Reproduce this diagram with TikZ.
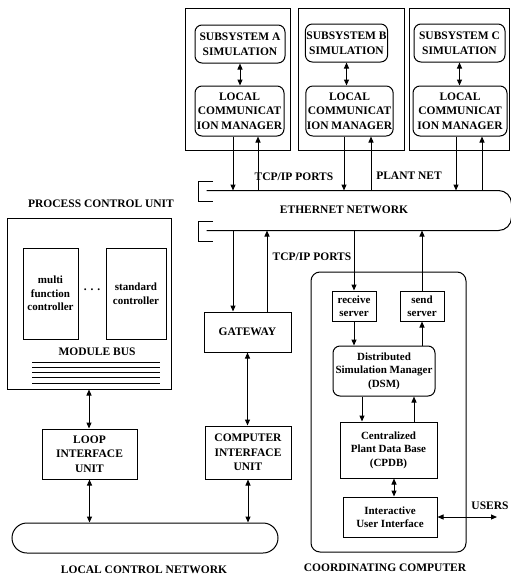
\documentclass[tikz,border=0pt]{standalone}
\usepackage{fontspec}
\setmainfont{Liberation Serif}
\usetikzlibrary{positioning, arrows.meta}

\begin{document}
\begin{tikzpicture}[
    x=1pt, y=-1pt, line width=1pt,
    box/.style={rectangle, draw, align=center, inner sep=1pt,
                font=\fontsize{11.5}{14.5}\selectfont\bfseries},
    rbox/.style={box, rounded corners=7pt},
    sbox/.style={box, font=\fontsize{11}{13.5}\selectfont\bfseries},
    frame/.style={rectangle, draw, inner sep=0pt},
    lbl/.style={inner sep=0pt, font=\fontsize{11.5}{14}\selectfont\bfseries},
    arr/.style={-{Triangle[length=6pt, width=5pt]}},
    dbl/.style={{Triangle[length=6pt, width=5pt]}-{Triangle[length=6pt, width=5pt]}},
]
\useasboundingbox (0,0) rectangle (511,576);

% Subsystems
\node[frame, minimum width=105pt, minimum height=142pt] (frA) at (237.5,79) {};
\node[frame, minimum width=106pt, minimum height=142pt] (frB) at (351,79) {};
\node[frame, minimum width=100pt, minimum height=142pt] (frC) at (459.5,79) {};
\node[rbox, minimum width=90pt, minimum height=38pt] (simA) at (240,44) {SUBSYSTEM A\\SIMULATION};
\node[rbox, minimum width=81pt, minimum height=38pt] (simB) at (346.5,43) {SUBSYSTEM B\\SIMULATION};
\node[rbox, minimum width=91pt, minimum height=38pt] (simC) at (459.5,43) {SUBSYSTEM C\\SIMULATION};
\node[rbox, minimum width=89pt, minimum height=50pt] (lcmA) at (239.5,111) {LOCAL\\COMMUNICAT\\ION MANAGER};
\node[rbox, minimum width=87pt, minimum height=50pt] (lcmB) at (349.5,111) {LOCAL\\COMMUNICAT\\ION MANAGER};
\node[rbox, minimum width=94pt, minimum height=50pt] (lcmC) at (460,111) {LOCAL\\COMMUNICAT\\ION MANAGER};
\draw[dbl] (simA.south) -- (simA.south |- lcmA.north);
\draw[dbl] (simB.south) -- (simB.south |- lcmB.north);
\draw[dbl] (simC.south) -- (simC.south |- lcmC.north);

% Ethernet
\node[minimum width=304pt, minimum height=39pt, inner sep=0pt] (eth) at (359,210.5) {};
\draw[rounded corners=13pt] (eth.north west) -- (eth.north east) -- (eth.south east) -- (eth.south west);
\draw (213,181) -- (198,181) -- (198,201) -- (213,201);
\draw (213,221) -- (198,221) -- (198,241) -- (213,241);
\node[lbl] (ethlbl) at (344,210) {ETHERNET NETWORK};
\node[lbl] (tcpA) at (294,177) {TCP/IP PORTS};
\node[lbl] (plant) at (409,176) {PLANT NET};

\draw[arr] (233,0 |- lcmA.south) -- (233,0 |- eth.north);
\draw[arr] (258,0 |- eth.north) -- (258,0 |- lcmA.south);
\draw[arr] (344,0 |- lcmB.south) -- (344,0 |- eth.north);
\draw[arr] (371,0 |- eth.north) -- (371,0 |- lcmB.south);
\draw[arr] (456,0 |- lcmC.south) -- (456,0 |- eth.north);
\draw[arr] (482,0 |- eth.north) -- (482,0 |- lcmC.south);

% Process control unit
\node[lbl] (pcutitle) at (101,204) {PROCESS CONTROL UNIT};
\node[frame, minimum width=164pt, minimum height=171pt] (pcu) at (89,303.5) {};
\node[sbox, minimum width=55pt, minimum height=91pt] (mfc) at (50.5,293.5) {multi\\function\\controller};
\node[sbox, minimum width=60pt, minimum height=91pt] (stc) at (136,293.5) {standard\\controller};
\node[lbl] (dots) at (92,290) {.\,\,.\,\,.};
\node[lbl] (mbus) at (97,352) {MODULE BUS};
\foreach \y in {362,367,372,377,383}
  \draw (32,\y) -- (160,\y);

% Gateway and interface units
\node[box, minimum width=87pt, minimum height=40pt] (gw) at (247.5,332) {GATEWAY};
\node[box, minimum width=86pt, minimum height=53pt] (ciu) at (248,452.5) {COMPUTER\\INTERFACE\\UNIT};
\node[box, minimum width=95pt, minimum height=50pt] (liu) at (89.5,454) {LOOP\\INTERFACE\\UNIT};
\draw[arr] (233,0 |- eth.south) -- (233,0 |- gw.north);
\draw[arr] (267,0 |- gw.north) -- (267,0 |- eth.south);
\draw[dbl] (gw.south) -- (gw.south |- ciu.north);
\draw[dbl] (89,0 |- pcu.south) -- (89,0 |- liu.north);

% Local control network
\node[draw, rounded corners=15pt, minimum width=266pt, minimum height=30pt] (lcn) at (145,538) {};
\node[lbl] (lcnlbl) at (144,570) {LOCAL CONTROL NETWORK};
\draw[dbl] (liu.south) -- (liu.south |- lcn.north);
\draw[dbl] (ciu.south) -- (ciu.south |- lcn.north);

% Coordinating computer
\node[frame, rounded corners=9pt, minimum width=155pt, minimum height=280pt] (cc) at (388.5,412) {};
\node[lbl] (cclbl) at (385,568) {COORDINATING COMPUTER};
\node[lbl] (tcpB) at (312,257) {TCP/IP PORTS};
\node[sbox, minimum width=44pt, minimum height=30pt] (recv) at (354,306) {receive\\server};
\node[sbox, minimum width=44pt, minimum height=30pt] (send) at (422,306) {send\\server};
\node[sbox, rounded corners=7pt, minimum width=102pt, minimum height=50pt] (dsm) at (384,371) {Distributed\\Simulation Manager\\(DSM)};
\node[sbox, minimum width=97pt, minimum height=56pt] (cpdb) at (388.5,450) {Centralized\\Plant Data Base\\(CPDB)};
\node[sbox, minimum width=94pt, minimum height=40pt] (iui) at (390,517) {Interactive\\User Interface};
\coordinate (usr) at (497,517);
\node[lbl] (users) at (490,506) {USERS};

\draw[arr] (recv.north |- eth.south) -- (recv.north);
\draw[arr] (send.north) -- (send.north |- eth.south);
\draw[arr] (recv.south) -- (recv.south |- dsm.north);
\draw[arr] (send.south |- dsm.north) -- (send.south);
\draw[arr] (362,0 |- dsm.south) -- (362,0 |- cpdb.north);
\draw[arr] (414,0 |- cpdb.north) -- (414,0 |- dsm.south);
\draw[dbl] (394,0 |- cpdb.south) -- (394,0 |- iui.north);
\draw[dbl] (iui.east) -- (usr);

\end{tikzpicture}
\end{document}
